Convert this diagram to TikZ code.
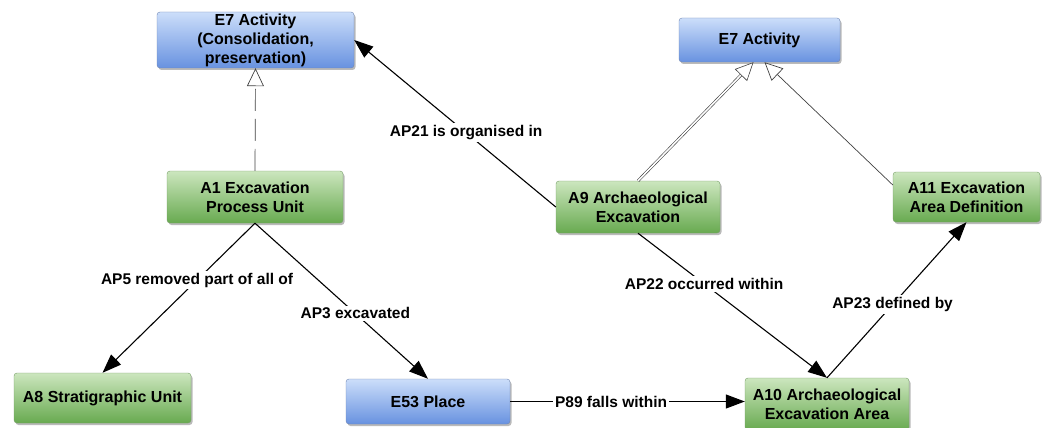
\documentclass[tikz,border=0pt]{standalone}
\usepackage{fontspec}
\setmainfont{Liberation Sans}
\usetikzlibrary{arrows.meta,shadows,calc}
\definecolor{bluetop}{RGB}{204,222,250}
\definecolor{bluebot}{RGB}{104,146,224}
\definecolor{blueedge}{RGB}{112,134,178}
\definecolor{greentop}{RGB}{204,230,190}
\definecolor{greenbot}{RGB}{104,170,80}
\definecolor{greenedge}{RGB}{118,158,104}
\tikzset{
  box/.style={rounded corners=3pt, align=center, inner sep=0pt,
    font=\fontsize{16}{19}\selectfont\bfseries,
    drop shadow={shadow xshift=1.5pt, shadow yshift=-2pt, fill=black!45, opacity=0.6}},
  bluebox/.style={box, draw=blueedge, top color=bluetop, bottom color=bluebot},
  greenbox/.style={box, draw=greenedge, top color=greentop, bottom color=greenbot},
  rel/.style={draw=black, line width=1.1pt, -{Triangle[length=19pt,width=14pt]}},
  lbl/.style={fill=white, inner sep=2pt, font=\fontsize{15.5}{19}\selectfont\bfseries},
  isa/.style={draw=black!75, line width=0.7pt, -{Triangle[open,length=18pt,width=17pt,fill=white]}},
}
\begin{document}
\begin{tikzpicture}[x=1pt,y=-1pt]
\useasboundingbox (0,0) rectangle (1044,428);
\node[bluebox, minimum width=197pt, minimum height=56pt] (E7L) at (255.5,40) {E7 Activity\\(Consolidation,\\preservation)};
\node[bluebox, minimum width=161pt, minimum height=44pt] (E7R) at (759.5,40) {E7 Activity};
\node[greenbox, minimum width=176pt, minimum height=52pt] (A1) at (255,197) {A1 Excavation\\Process Unit};
\node[greenbox, minimum width=164pt, minimum height=52pt] (A9) at (638,207) {A9 Archaeological\\Excavation};
\node[greenbox, minimum width=147pt, minimum height=50pt] (A11) at (966.5,197) {A11 Excavation\\Area Definition};
\node[greenbox, minimum width=177pt, minimum height=50pt] (A8) at (102.5,398) {A8 Stratigraphic Unit};
\node[bluebox, minimum width=164pt, minimum height=45pt] (E53) at (428,401.5) {E53 Place};
\node[greenbox, minimum width=164pt, minimum height=52pt] (A10) at (827,404) {A10 Archaeological\\Excavation Area};

% is-a links
\draw[isa, dash pattern=on 22pt off 8pt] (A1.north) -- (E7L.south);
\draw[isa, double=white, double distance=1.6pt, line width=0.6pt] (A9.north) -- ($(E7R.south)+(-6,0)$);
\coordinate (a11in) at ($(A11.west)+(0,-12)$);
\draw[isa] (a11in) -- ($(E7R.south)+(5,0)$);

% relations
\draw[rel] (A9.west) -- node[lbl, pos=0.445] {AP21 is organised in} (E7L.east);
\draw[rel] (A1.south) -- node[lbl, pos=0.38] {AP5 removed part of all of} (A8.north);
\draw[rel] (A1.south) -- node[lbl, pos=0.58] {AP3 excavated} (E53.north);
\coordinate (a10w) at (E53.east -| A10.west);
\draw[rel] (E53.east) -- node[lbl, pos=0.43] {P89 falls within} (a10w);
\draw[rel] (A9.south) -- node[lbl, pos=0.35] {AP22 occurred within} (A10.north);
\draw[rel] (A10.north) -- node[lbl, pos=0.47] {AP23 defined by} (A11.south);
\end{tikzpicture}
\end{document}
